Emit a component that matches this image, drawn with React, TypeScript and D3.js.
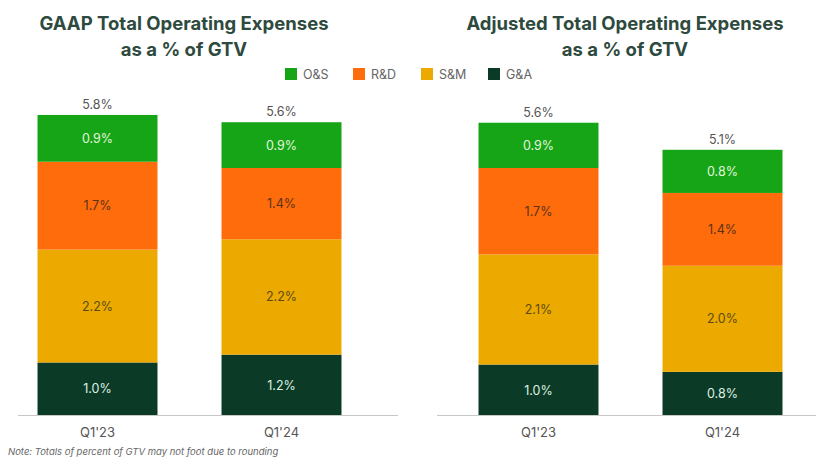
import React from "react";
import * as d3 from "d3";

const categories = ["Q1'23", "Q1'24"];
const seriesNames = ["G&A", "S&M", "R&D", "O&S"];
const legendOrder = ["O&S", "R&D", "S&M", "G&A"];
const seriesColors = ["#0b3b26", "#ecaa00", "#ff6c0c", "#16a516"];
const labelColors = ["#dff0e4", "#5b4a10", "#5a3218", "#e2f6dc"];

// values per category: [G&A, S&M, R&D, O&S]
const gaapQ123 = [1.02, 2.17, 1.69, 0.9];
const gaapQ124 = [1.17, 2.22, 1.37, 0.88];
const adjQ123 = [0.98, 2.12, 1.66, 0.87];
const adjQ124 = [0.84, 2.04, 1.4, 0.83];

const panels = [
  { title: ["GAAP Total Operating Expenses", "as a % of GTV"], data: [gaapQ123, gaapQ124], start: 5.5, axis: [18, 398], titleX: 184 },
  { title: ["Adjusted Total Operating Expenses", "as a % of GTV"], data: [adjQ123, adjQ124], start: 446.5, axis: [437, 816], titleX: 625 },
];

const fmt = d3.format(".1f");
const font = "Inter, 'Open Sans', sans-serif";

export default function App() {
  const y = d3.scaleLinear().domain([0, 6]).range([415.5, 415.5 - 6 * 52]);
  return (
    <svg width={816} height={457} style={{ position: "absolute", left: 0, top: 0, background: "#fff" }} fontFamily={font}>
      {panels.map((p, pi) => {
        const x = d3.scaleBand<string>().domain(categories).range([p.start, p.start + 368]).paddingInner(0.348).paddingOuter(0.174);
        const stack = d3.stack<number[]>().keys(seriesNames.map((_, i) => String(i))).value((d, k) => d[+k]);
        const stacked = stack(p.data as any);
        return (
          <g key={pi}>
            <text x={p.titleX} y={30} textAnchor="middle" fontSize={18.5} fontWeight={700} fill="#2e4a3e">{p.title[0]}</text>
            <text x={p.titleX} y={56} textAnchor="middle" fontSize={18.5} fontWeight={700} fill="#2e4a3e">{p.title[1]}</text>
            {stacked.map((layer, si) => (
              <g key={si}>
                {layer.map((d, ci) => {
                  const bx = x(categories[ci])!;
                  const y0 = y(d[0]);
                  const y1 = y(d[1]);
                  return (
                    <g key={ci}>
                      <rect x={bx} y={y1} width={x.bandwidth()} height={y0 - y1} fill={seriesColors[si]} />
                      <text x={bx + x.bandwidth() / 2} y={(y0 + y1) / 2 + 4.5} textAnchor="middle" fontSize={12.5} fill={labelColors[si]}>
                        {fmt(d[1] - d[0]) + "%"}
                      </text>
                    </g>
                  );
                })}
              </g>
            ))}
            {p.data.map((vals, ci) => {
              const total = d3.sum(vals);
              return (
                <text key={ci} x={x(categories[ci])! + x.bandwidth() / 2} y={y(total) - 6} textAnchor="middle" fontSize={12.5} fill="#555">
                  {fmt(total) + "%"}
                </text>
              );
            })}
            <line x1={p.axis[0]} x2={p.axis[1]} y1={415.5} y2={415.5} stroke="#c8c8c8" strokeWidth={1} />
            {categories.map((c) => (
              <text key={c} x={x(c)! + x.bandwidth() / 2} y={437} textAnchor="middle" fontSize={13} fill="#555">{c}</text>
            ))}
          </g>
        );
      })}
      {legendOrder.map((name, i) => {
        const lx = [285, 353, 421, 488][i];
        const si = seriesNames.indexOf(name);
        return (
          <g key={name}>
            <rect x={lx} y={68} width={12} height={12} fill={seriesColors[si]} />
            <text x={lx + 18} y={79} fontSize={12.5} fill="#666">{name}</text>
          </g>
        );
      })}
      <text x={8} y={455} fontSize={9.5} fontStyle="italic" fill="#666">Note: Totals of percent of GTV may not foot due to rounding</text>
    </svg>
  );
}
